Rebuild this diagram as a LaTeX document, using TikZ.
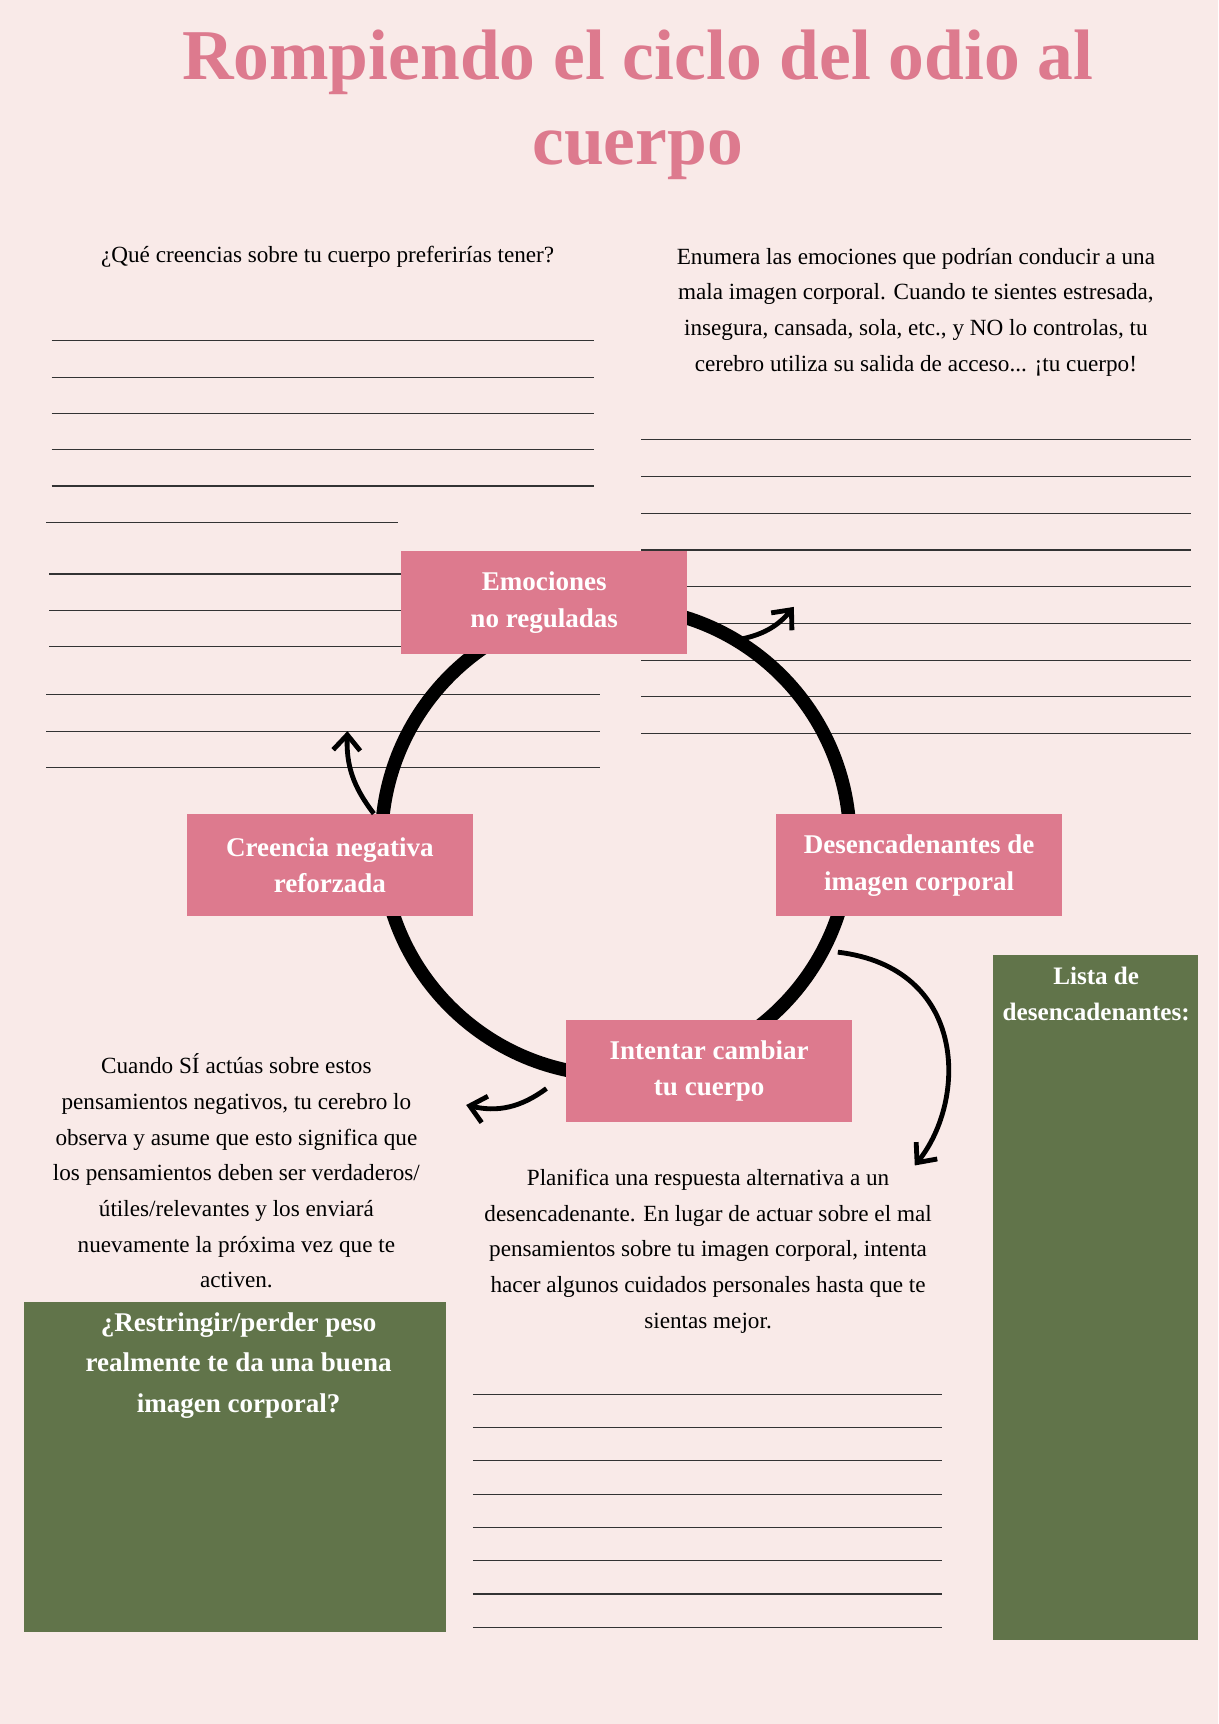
\documentclass[tikz,border=0pt]{standalone}
\usepackage{fontspec}
\setmainfont{Liberation Serif}
\usetikzlibrary{arrows.meta}
\definecolor{bgpink}{HTML}{F9EAE8}
\definecolor{rosa}{HTML}{DD7A8E}
\definecolor{verde}{HTML}{61744A}
\begin{document}
\begin{tikzpicture}[x=0.02cm,y=-0.02cm,
	step box/.style={fill=rosa,text=white,font=\fontsize{14}{19}\selectfont\bfseries,align=center,minimum width=5.2cm,minimum height=1.86cm,inner sep=0pt},
	green box/.style={fill=verde,text=white,font=\bfseries,align=center,anchor=north west,inner sep=6pt},
	body/.style={font=\fontsize{12}{18.5}\selectfont,align=center},
	rule/.style={line width=0.6pt,black!80},
	loop arrow/.style={line width=2.5pt,-{Straight Barb[length=8pt,width=14pt,line width=2.5pt]}}]
	
	\fill[bgpink] (0,0) rectangle (1108,1568);
	
	% title
	\node[text=rosa,font=\fontsize{37}{44}\selectfont\bfseries,align=center] (title) at (580,95) {Rompiendo el ciclo del odio al\\cuerpo};
	
	% questions
	\node[body] (q1) at (298,234) {¿Qué creencias sobre tu cuerpo preferirías tener?};
	\node[body] (q2) at (833,284) {Enumera las emociones que podrían conducir a una\\mala imagen corporal. Cuando te sientes estresada,\\insegura, cansada, sola, etc., y NO lo controlas, tu\\cerebro utiliza su salida de acceso... ¡tu cuerpo!};
	
	% writing lines
	\foreach \y in {310,343,376,409,442} \draw[rule] (47,\y) -- (540,\y);
	\draw[rule] (42,475) -- (362,475);
	\foreach \y in {522,555,588} \draw[rule] (45,\y) -- (365,\y);
	\foreach \y in {632,665,698} \draw[rule] (42,\y) -- (546,\y);
	\foreach \i in {0,...,8} \draw[rule] (583,400+33.4*\i) -- (1083,400+33.4*\i);
	\foreach \i in {0,...,7} \draw[rule] (430,1268+30.3*\i) -- (857,1268+30.3*\i);
	
	% cycle
	\draw[line width=7pt] (560,765) circle[radius=213];
	
	\node[step box] (emo) at (495,548) {Emociones\\no reguladas};
	\node[step box] (cre) at (300,787) {Creencia negativa\\reforzada};
	\node[step box] (des) at (836,787) {Desencadenantes de\\imagen corporal};
	\node[step box] (int) at (645,974) {Intentar cambiar\\tu cuerpo};
	
	\coordinate (a1) at (722,552);
	\coordinate (a2) at (316,665);
	\coordinate (a3) at (424,1005);
	\coordinate (a4) at (832,1060);
	\draw[loop arrow] (670,582) to[bend right=20] (a1);
	\draw[loop arrow] (340,740) to[bend left=20] (a2);
	\draw[loop arrow] (497,990) to[bend left=25] (a3);
	\draw[loop arrow] (762,866) .. controls (880,880) and (880,1000) .. (a4);
	
	% explanations
	\node[body] (exp1) at (215,1065) {Cuando SÍ actúas sobre estos\\pensamientos negativos, tu cerebro lo\\observa y asume que esto significa que\\los pensamientos deben ser verdaderos/\\útiles/relevantes y los enviará\\nuevamente la próxima vez que te\\activen.};
	\node[body] (exp2) at (644,1138) {Planifica una respuesta alternativa a un\\desencadenante. En lugar de actuar sobre el mal\\pensamientos sobre tu imagen corporal, intenta\\hacer algunos cuidados personales hasta que te\\sientas mejor.};
	
	% green boxes
	\fill[verde] (22,1184) rectangle (406,1484);
	\node[text=white,font=\fontsize{14}{21}\selectfont\bfseries,align=center] (q3) at (217,1242) {¿Restringir/perder peso\\realmente te da una buena\\imagen corporal?};
	\fill[verde] (903,869) rectangle (1090,1492);
	\node[text=white,font=\fontsize{13}{19}\selectfont\bfseries,align=center] (lista) at (997,904) {Lista de\\desencadenantes:};
\end{tikzpicture}
\end{document}
